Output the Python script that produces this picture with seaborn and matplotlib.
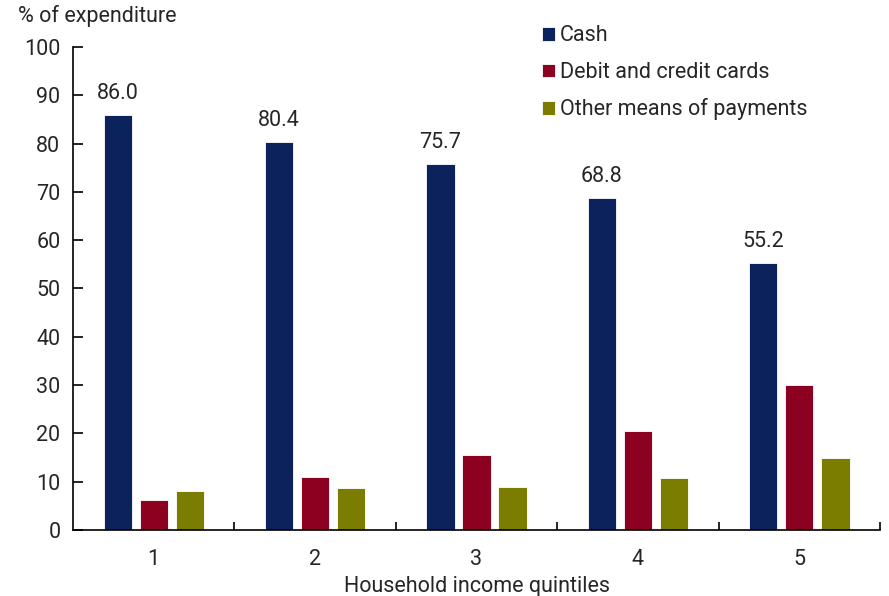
import matplotlib
matplotlib.use("Agg")
import matplotlib.pyplot as plt
from matplotlib.ticker import FixedLocator
import seaborn as sns
import pandas as pd

quintiles = ["1", "2", "3", "4", "5"]
cash = [86.0, 80.4, 75.7, 68.8, 55.2]
cards = [6.1, 10.9, 15.4, 20.4, 30.0]
other = [8.0, 8.7, 8.9, 10.8, 14.8]
series_names = ["Cash", "Debit and credit cards", "Other means of payments"]
colors = ["#0b225c", "#8c0020", "#7a7d00"]

df = pd.DataFrame({
    "quintile": quintiles * 3,
    "value": cash + cards + other,
    "series": [s for s in series_names for _ in quintiles],
})

sns.set_style("white")
plt.rcParams["font.family"] = ["Roboto", "DejaVu Sans"]
FS = 15.5

fig = plt.figure(figsize=(8.89, 5.96), dpi=100)
ax = fig.add_axes([0.082, 0.111, 0.908, 0.810])

sns.barplot(data=df, x="quintile", y="value", hue="series", order=quintiles,
            hue_order=series_names, palette=colors, saturation=1,
            width=0.67, gap=0.22, edgecolor="white", linewidth=0.6, ax=ax)

# value labels on the cash bars
ax.bar_label(ax.containers[0], labels=[f"{v:.1f}" for v in cash],
             padding=8, fontsize=FS)

ax.set_ylim(0, 100)
ax.set_xlim(-0.5, 4.5)
ax.set_yticks(range(0, 101, 10))
ax.tick_params(axis="y", direction="in", length=7, width=1.2, labelsize=FS,
               left=True, pad=9, color="black")
# x tick labels at category centres, tick marks at category boundaries
ax.set_xticks(range(5))
ax.set_xticklabels(quintiles)
ax.tick_params(axis="x", length=0, labelsize=FS, pad=14)
ax.xaxis.set_minor_locator(FixedLocator([0.5, 1.5, 2.5, 3.5, 4.5]))
ax.tick_params(axis="x", which="minor", direction="in", length=6, width=1.2,
               bottom=True, color="black")

for side in ["top", "right"]:
    ax.spines[side].set_visible(False)
for side in ["left", "bottom"]:
    ax.spines[side].set_color("black")
    ax.spines[side].set_linewidth(1.2)

ax.set_ylabel("")
ax.set_xlabel("Household income quintiles", fontsize=FS, labelpad=4)
fig.text(0.02, 0.992, "% of expenditure", fontsize=FS, ha="left", va="top")

leg = ax.legend(loc="upper left", bbox_to_anchor=(0.557, 1.085), frameon=False,
                fontsize=FS, handlelength=0.6, handleheight=0.6,
                handletextpad=0.25, labelspacing=0.72)

fig.savefig("out.png", dpi=100)
